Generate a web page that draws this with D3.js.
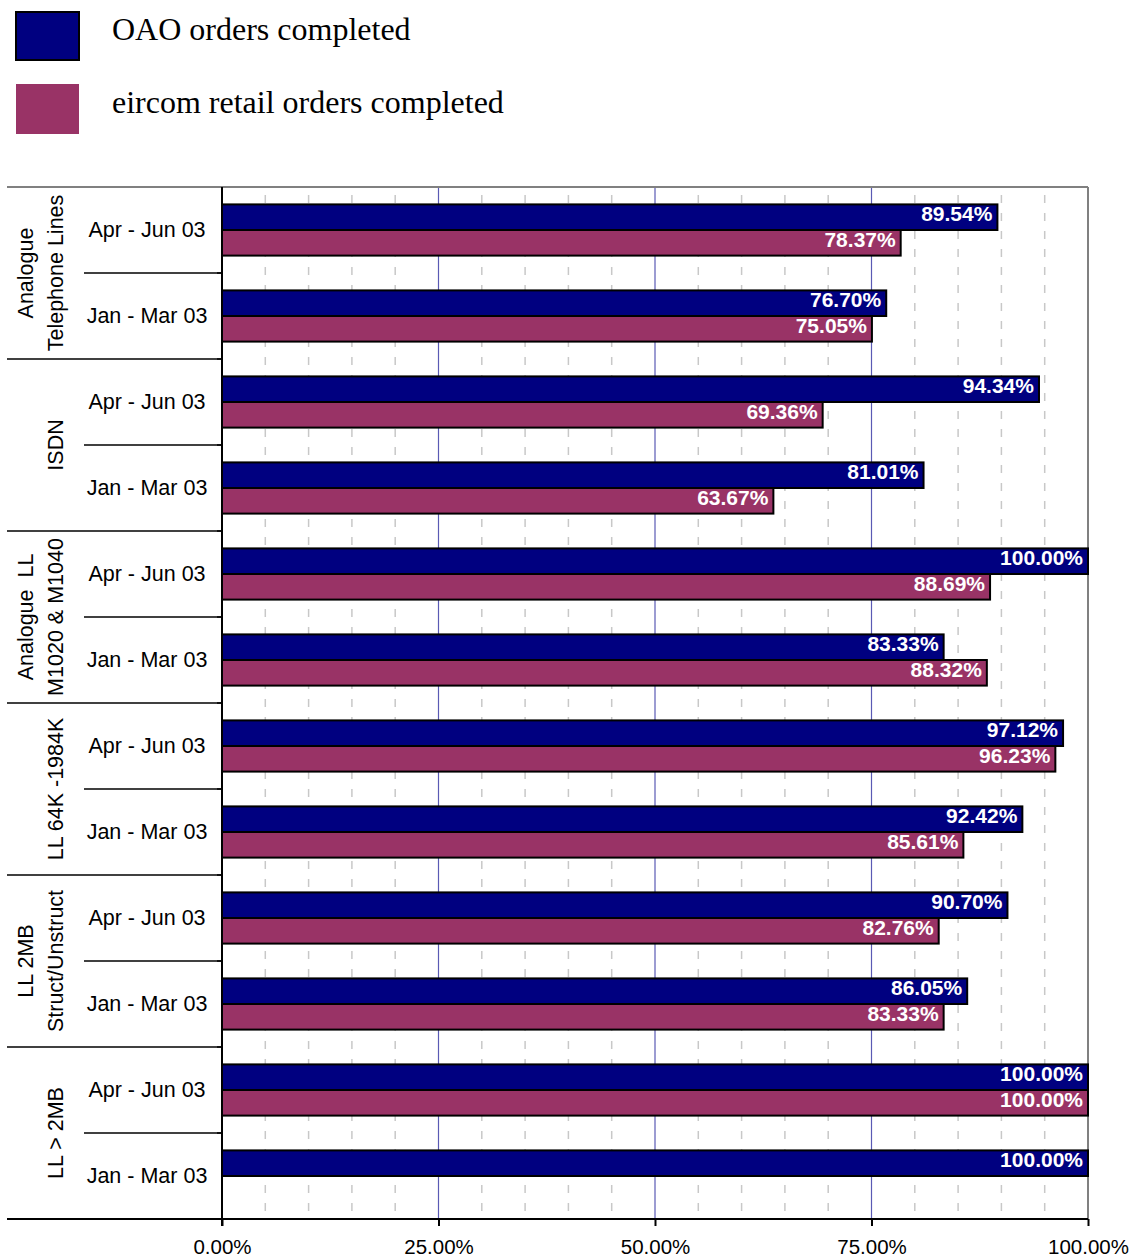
<!DOCTYPE html>
<html><head><meta charset="utf-8">
<script src="https://cdn.jsdelivr.net/npm/d3@7"></script>
<style>
html,body{margin:0;padding:0;background:#fff;}
svg{display:block;}
text{white-space:pre;}
</style></head>
<body>
<svg id="chart" width="1132" height="1259"></svg>
<script>
// ---- data ----
const groupLines = [["Analogue","Telephone Lines"],["ISDN"],["Analogue  LL","M1020 & M1040"],["LL 64K -1984K"],["LL 2MB","Struct/Unstruct"],["LL > 2MB"]];
const periods = ["Apr - Jun 03","Jan - Mar 03"];
const seriesNames = ["OAO orders completed","eircom retail orders completed"];
const oaoValues = [89.54, 76.70, 94.34, 81.01, 100.00, 83.33, 97.12, 92.42, 90.70, 86.05, 100.00, 100.00];
const eircomValues = [78.37, 75.05, 69.36, 63.67, 88.69, 88.32, 96.23, 85.61, 82.76, 83.33, 100.00, null];
const tickValues = [0, 25, 50, 75, 100];
const minorTicks = [5,10,15,20,30,35,40,45,55,60,65,70,80,85,90,95];
const colors = ["#000080", "#993366"];

// ---- layout ----
const svg = d3.select("#chart");
const L = 222, R = 1088, T = 187, B = 1219;
const x = d3.scaleLinear().domain([0, 100]).range([L, R]);
const rows = [];
groupLines.forEach((g, gi) => periods.forEach((p, pi) => rows.push({gi, pi, key: gi + "|" + pi, period: p})));
const y = d3.scaleBand().domain(rows.map(r => r.key)).range([T, B]);
const ySeries = d3.scaleBand().domain([0, 1]).range([0, y.bandwidth()]).paddingOuter(0.68);

// legend
const legend = svg.append("g");
seriesNames.forEach((s, i) => {
  legend.append("rect").attr("x", 16).attr("y", i === 0 ? 12 : 84).attr("width", 63).attr("height", i === 0 ? 48 : 50)
    .attr("fill", colors[i]).attr("stroke", i === 0 ? "#000" : "none").attr("stroke-width", 2);
  legend.append("text").attr("x", 112).attr("y", i === 0 ? 40 : 113).text(s)
    .attr("font-family", "'Liberation Serif','Times New Roman',serif").attr("font-size", 32).attr("fill", "#000");
});

// minor gridlines
svg.append("g").selectAll("line").data(minorTicks).join("line")
  .attr("x1", d => x(d)).attr("x2", d => x(d)).attr("y1", T).attr("y2", B)
  .attr("stroke", "#c8c8c8").attr("stroke-width", 1.5).attr("stroke-dasharray", "8,10").attr("stroke-dashoffset", -8);
// major gridlines
svg.append("g").selectAll("line").data([25, 50, 75]).join("line")
  .attr("x1", d => x(d)).attr("x2", d => x(d)).attr("y1", T).attr("y2", B)
  .attr("stroke", "#5a5ab4").attr("stroke-width", 1.2);

// plot border top & right
svg.append("line").attr("x1", 7).attr("x2", R).attr("y1", T).attr("y2", T).attr("stroke", "#808080").attr("stroke-width", 2);
svg.append("line").attr("x1", R).attr("x2", R).attr("y1", T).attr("y2", B).attr("stroke", "#808080").attr("stroke-width", 2);

// bars
const barData = [];
rows.forEach((r, i) => {
  [oaoValues[i], eircomValues[i]].forEach((v, si) => { if (v != null) barData.push({r, si, v}); });
});
const bars = svg.append("g");
bars.selectAll("rect").data(barData).join("rect")
  .attr("x", x(0)).attr("y", d => y(d.r.key) + ySeries(d.si))
  .attr("width", d => x(d.v) - x(0)).attr("height", ySeries.bandwidth())
  .attr("fill", d => colors[d.si]).attr("stroke", "#000").attr("stroke-width", 2);
bars.selectAll("text").data(barData).join("text")
  .attr("x", d => Math.min(x(d.v) - 5, R - 2)).attr("y", d => y(d.r.key) + ySeries(d.si) + ySeries.bandwidth() / 2 + 4)
  .attr("text-anchor", "end").attr("fill", "#fff").attr("font-weight", "bold")
  .attr("font-family", "'Liberation Sans',Arial,sans-serif").attr("font-size", 21)
  .text(d => d.v.toFixed(2) + "%");

// left axis & category structure
const axisG = svg.append("g");
axisG.append("line").attr("x1", L).attr("x2", L).attr("y1", T).attr("y2", B + 7).attr("stroke", "#000").attr("stroke-width", 2);
axisG.append("line").attr("x1", 7).attr("x2", R).attr("y1", B).attr("y2", B).attr("stroke", "#000").attr("stroke-width", 2);
// group separators
groupLines.forEach((g, gi) => {
  const y0 = y(gi + "|0");
  if (gi > 0) axisG.append("line").attr("x1", 7).attr("x2", L).attr("y1", y0).attr("y2", y0).attr("stroke", "#000").attr("stroke-width", 1.5);
  const y1 = y(gi + "|1");
  axisG.append("line").attr("x1", 84).attr("x2", L).attr("y1", y1).attr("y2", y1).attr("stroke", "#000").attr("stroke-width", 1.5);
  const cy = y0 + y.bandwidth();
  const n = g.length;
  g.forEach((line, li) => {
    const bx = 63 - (n - 1 - li) * 30;
    axisG.append("text").attr("transform", `translate(${bx},${cy}) rotate(-90)`)
      .attr("text-anchor", "middle").attr("font-family", "'Liberation Sans',Arial,sans-serif").attr("font-size", 21.5)
      .attr("fill", "#000").text(line);
  });
});
// left ticks
axisG.selectAll(".lt").data(rows.slice(1)).join("line")
  .attr("x1", L - 5).attr("x2", L).attr("y1", d => y(d.key)).attr("y2", d => y(d.key)).attr("stroke", "#000").attr("stroke-width", 1.5);
// period labels
axisG.selectAll(".pl").data(rows).join("text")
  .attr("x", 147).attr("y", d => y(d.key) + y.bandwidth() / 2 + 6.5)
  .attr("text-anchor", "middle").attr("font-family", "'Liberation Sans',Arial,sans-serif").attr("font-size", 21.5)
  .attr("fill", "#000").text(d => d.period);

// bottom axis
const xAxis = d3.axisBottom(x).tickValues(tickValues).tickSize(7).tickFormat(d => d.toFixed(2) + "%");
const xg = svg.append("g").attr("transform", `translate(0,${B})`).call(xAxis);
xg.select(".domain").remove();
xg.selectAll(".tick line").attr("stroke", "#000").attr("stroke-width", 2);
xg.selectAll(".tick text").attr("font-family", "'Liberation Sans',Arial,sans-serif").attr("font-size", 20.5)
  .attr("fill", "#000").attr("dy", null).attr("y", 35);
</script>
</body></html>
